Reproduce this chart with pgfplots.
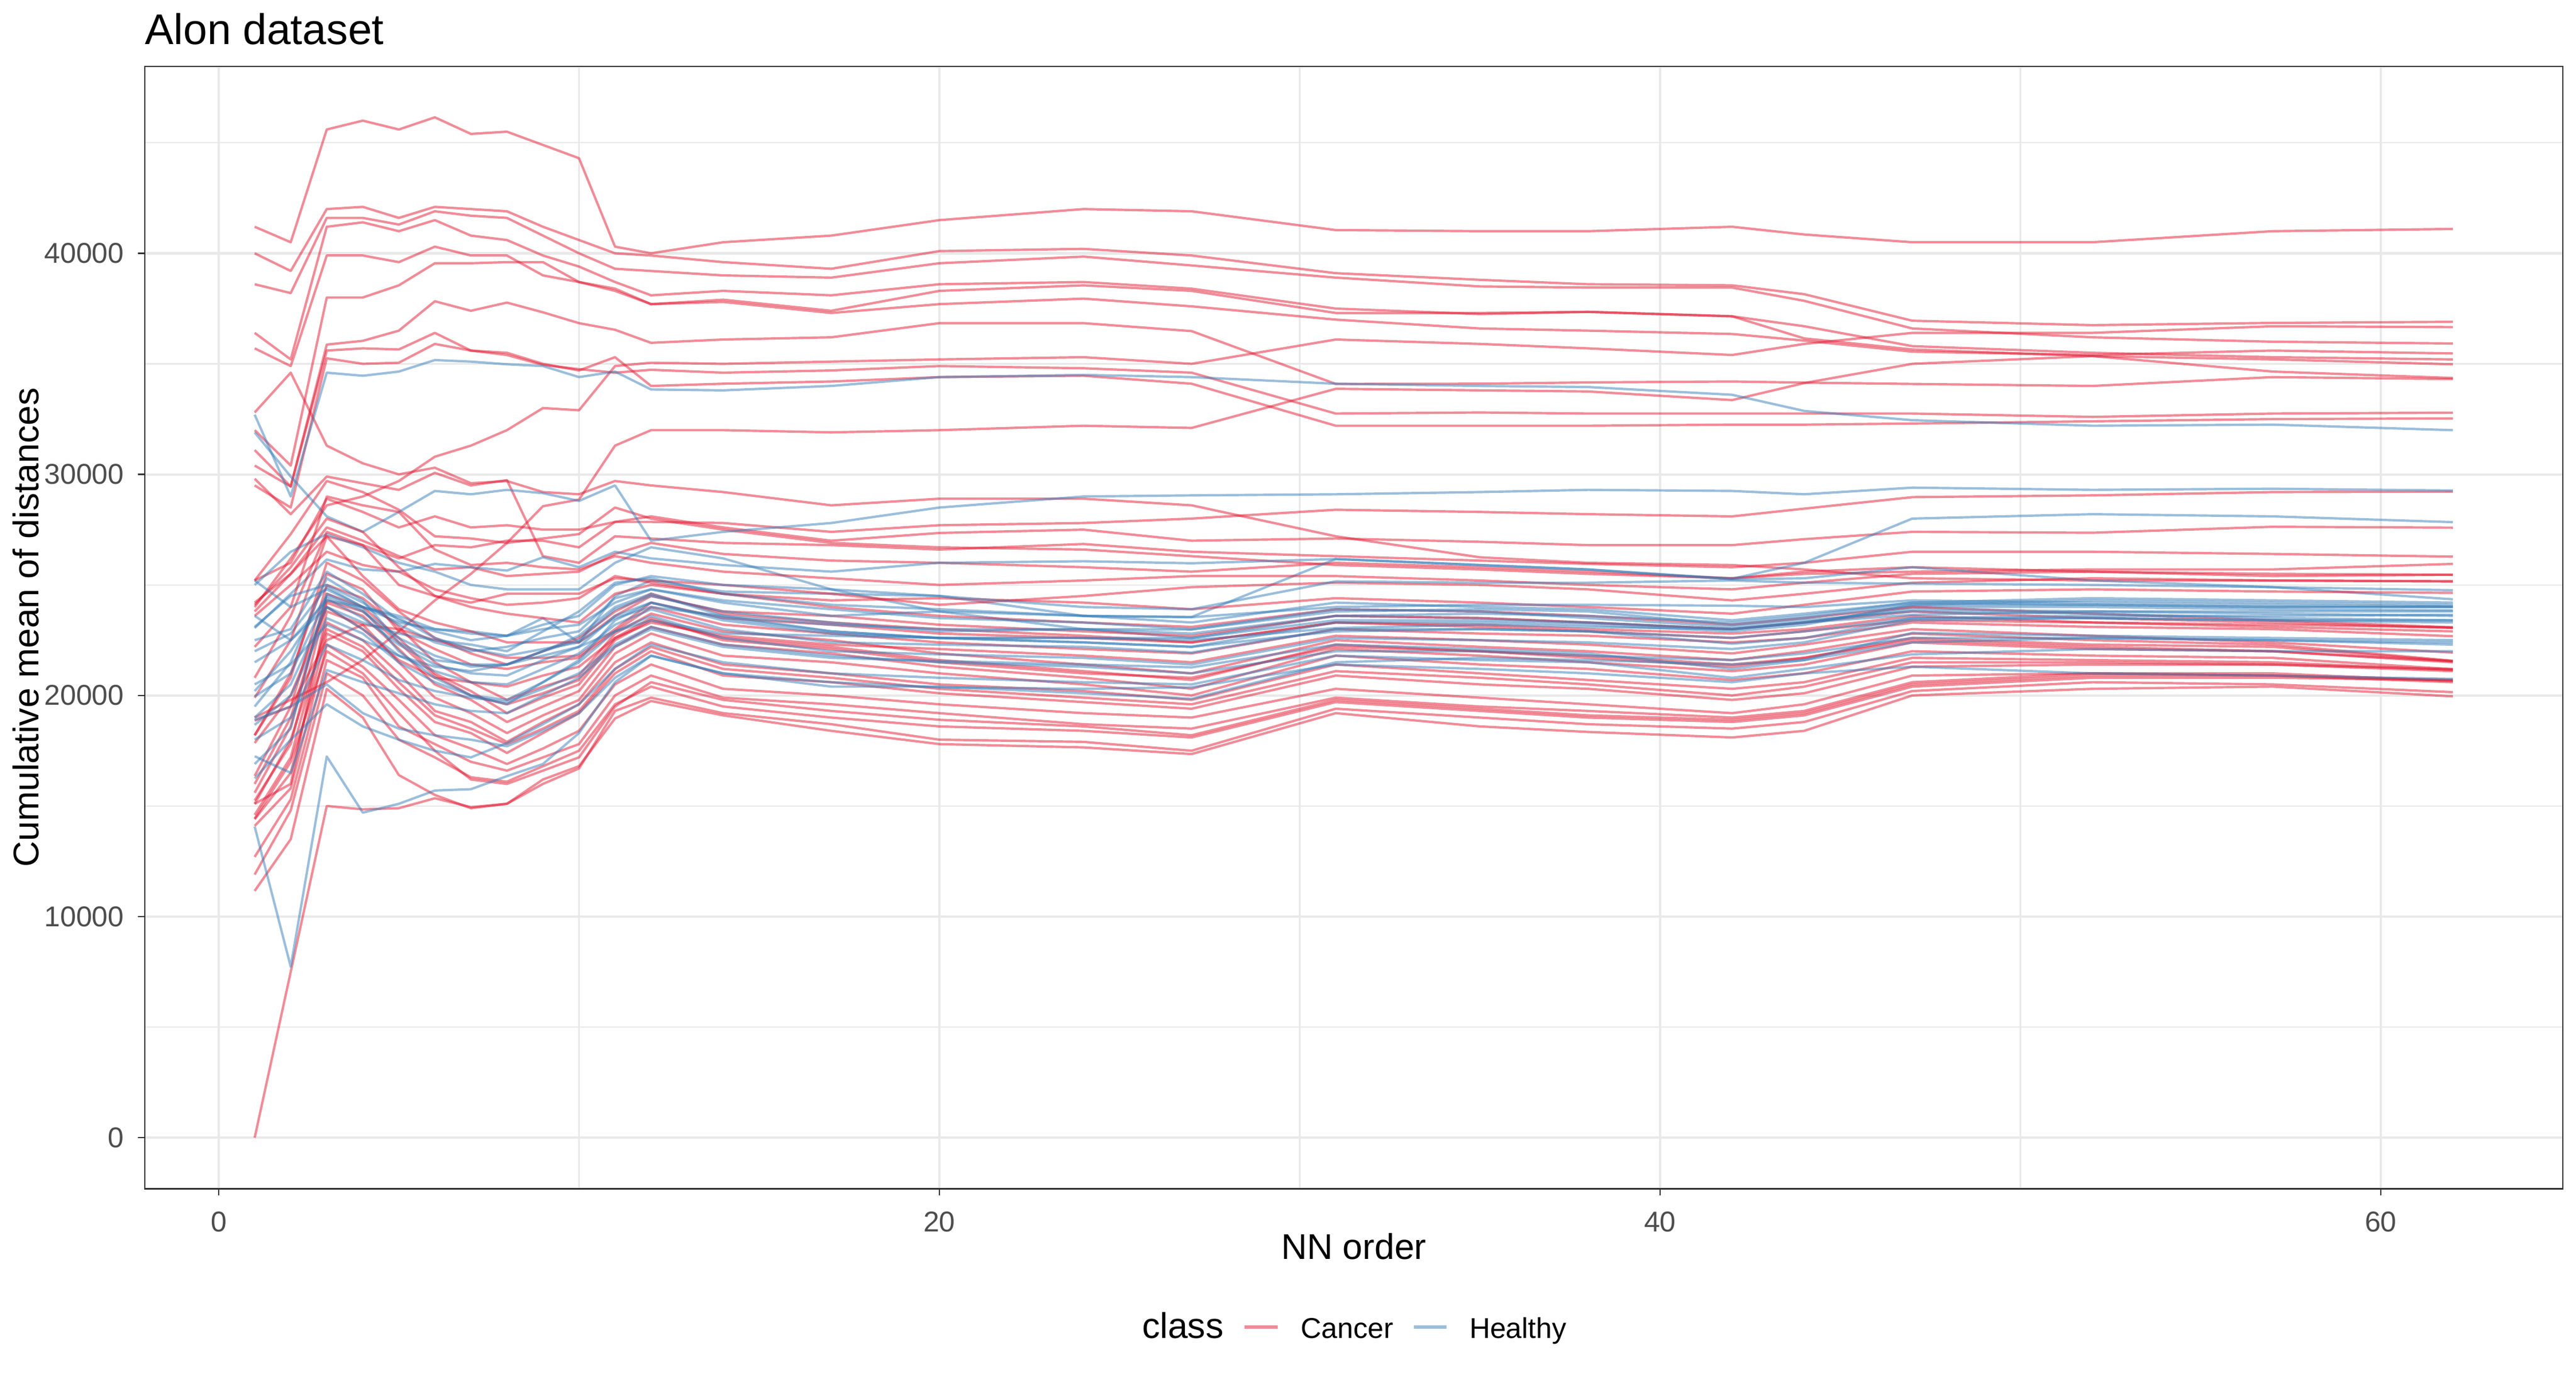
\documentclass[border=0pt]{standalone}
\usepackage{fontspec}
\setmainfont{Liberation Sans}
\usepackage{pgfplots}
\usepackage{pgfplotstable}
\pgfplotsset{compat=1.18}
\definecolor{cancer}{RGB}{225,25,50}
\definecolor{healthy}{RGB}{55,126,184}
\definecolor{grid92}{RGB}{233,233,233}
\definecolor{gray20}{RGB}{51,51,51}
\definecolor{gray30}{RGB}{77,77,77}

\pgfplotstableread{
name 1 2 3 4 5 6 7 8 9 10 11 12 14 17 20 24 27 31 35 38 42 44 47 52 57 62
c1 41.2 40.5 45.6 46.0 45.6 46.15 45.4 45.5 44.9 44.3 40.3 40.0 40.5 40.8 41.5 42.0 41.9 41.05 41.0 41.0 41.2 40.85 40.5 40.5 41.0 41.1
c2 40.0 39.2 42.0 42.1 41.6 42.1 42.0 41.9 41.2 40.6 40.0 39.9 39.6 39.3 40.1 40.2 39.9 39.1 38.8 38.6 38.55 38.15 36.95 36.75 36.85 36.9
c3 38.6 38.2 41.6 41.6 41.3 41.9 41.7 41.6 40.8 40.0 39.3 39.2 39.0 38.9 39.55 39.85 39.45 38.9 38.5 38.45 38.45 37.85 36.6 36.2 36.0 35.92
c4 36.4 35.2 41.2 41.4 41.0 41.5 40.8 40.6 39.9 39.4 38.7 38.1 38.3 38.1 38.6 38.7 38.4 37.5 37.25 37.35 37.15 36.15 35.65 35.35 34.65 34.36
c5 35.7 34.9 39.9 39.9 39.6 40.3 39.9 39.9 39.0 38.7 38.3 37.7 37.9 37.4 38.3 38.55 38.3 37.3 37.3 37.35 37.15 36.7 35.8 35.5 35.3 35.2
c6 32.0 30.4 38.0 38.0 38.55 39.55 39.55 39.6 39.6 38.7 38.4 37.7 37.8 37.3 37.7 37.95 37.6 37.0 36.6 36.5 36.35 36.05 35.55 35.4 35.6 35.47
c7 31.1 29.45 35.87 36.04 36.5 37.83 37.4 37.77 37.33 36.84 36.54 35.95 36.1 36.2 36.84 36.84 36.48 34.09 34.1 34.16 34.2 34.15 34.09 34.0 34.4 34.31
c8 24.0 26.2 28.6 29.0 29.7 30.8 31.3 32.0 33.0 32.9 34.9 35.05 35.0 35.1 35.2 35.3 35.0 36.1 35.9 35.7 35.4 35.9 36.4 36.4 36.7 36.66
c9 29.5 28.5 35.25 35.0 35.05 35.9 35.6 35.4 34.95 34.76 34.6 34.73 34.6 34.7 34.9 34.8 34.6 32.75 32.8 32.75 32.75 32.75 32.75 32.6 32.75 32.79
c10 30.4 29.45 35.6 35.7 35.65 36.4 35.6 35.5 35.0 34.7 35.3 34.0 34.1 34.2 34.4 34.46 34.1 32.2 32.2 32.2 32.25 32.25 32.3 32.4 32.5 32.53
c11 19.0 19.8 20.6 21.6 22.9 24.3 25.5 26.9 28.56 28.86 31.3 32.0 32.0 31.9 32.0 32.2 32.1 33.87 33.8 33.75 33.36 34.13 35.0 35.35 35.2 34.98
c12 32.8 34.6 31.3 30.5 30.0 30.3 29.6 29.7 29.2 29.1 29.7 29.5 29.2 28.6 28.9 28.9 28.6 27.2 26.25 26.0 25.9 25.7 25.3 25.2 25.2 25.16
c13 29.8 28.2 29.9 29.6 29.3 30.07 29.5 29.74 26.3 26.0 27.2 27.1 26.9 26.8 26.6 26.85 26.5 26.3 26.1 25.95 25.8 26.0 26.5 26.5 26.4 26.28
c14 25.2 26.0 28.9 28.3 27.6 28.1 27.6 27.7 27.5 27.5 27.85 27.85 27.8 27.4 27.7 27.8 28.0 28.4 28.3 28.2 28.1 28.45 28.97 29.05 29.2 29.22
c15 23.8 25.5 27.2 26.8 26.2 26.8 26.7 27.0 27.0 26.7 27.85 28.1 27.6 27.0 27.35 27.5 27.0 27.1 26.95 26.8 26.8 27.07 27.4 27.36 27.63 27.59
c16 25.2 27.3 29.7 29.2 28.4 27.2 27.1 26.9 27.1 27.3 28.5 28.0 27.5 26.9 26.7 26.6 26.3 25.9 25.7 25.5 25.3 25.6 25.8 25.6 25.4 25.46
c17 24.2 25.5 27.6 27.0 26.3 25.7 25.8 25.4 25.5 25.6 26.4 26.9 26.4 26.1 26.0 25.8 25.6 26.0 25.8 25.6 25.3 25.5 25.6 25.7 25.7 25.95
c18 0 7.5 15.0 14.85 14.9 15.35 14.95 15.1 16.2 16.8 18.96 19.75 19.1 18.4 17.8 17.65 17.35 19.2 18.6 18.35 18.1 18.4 20.0 20.3 20.4 19.96
c19 11.16 13.5 20.3 19.0 16.4 15.5 14.9 15.1 16.0 16.7 19.3 19.9 19.2 18.7 18.0 17.9 17.5 19.4 19.0 18.7 18.5 18.8 20.2 20.6 20.5 20.15
c20 11.9 14.8 21.0 20.0 18.0 17.2 16.3 16.1 16.8 17.5 19.6 20.4 19.5 19.0 18.6 18.4 18.1 19.7 19.3 19.0 18.8 19.1 20.4 20.8 20.8 20.7
c21 12.7 15.3 21.6 20.8 18.6 17.8 17.0 16.6 17.2 17.8 20.0 20.9 19.9 19.6 19.2 18.7 18.5 19.9 19.5 19.3 19.0 19.3 20.6 21.0 20.9 20.6
c22 14.1 15.8 22.3 21.3 19.8 18.2 17.6 16.9 17.6 18.4 20.5 21.4 20.3 20.0 19.6 19.2 19.0 20.3 19.9 19.6 19.2 19.6 20.9 21.0 21.0 20.65
c23 14.4 16.5 22.8 22.0 20.3 18.8 18.3 17.4 18.3 19.2 21.0 22.0 20.9 20.6 20.1 19.7 19.4 20.9 20.5 20.3 19.8 20.1 21.3 21.4 21.4 21.1
c24 14.6 17.2 23.3 22.5 21.0 19.3 18.8 17.9 18.8 19.6 21.5 22.4 21.4 21.0 20.5 20.2 19.8 21.4 21.0 20.7 20.3 20.6 21.7 21.6 21.5 21.15
c25 15.1 16.0 23.8 23.2 21.5 19.9 19.2 18.3 19.1 19.8 21.9 22.8 21.8 21.5 21.0 20.5 20.0 21.8 21.4 21.2 20.7 21.0 22.0 21.8 21.7 21.19
c26 15.25 17.8 24.2 23.6 22.1 20.5 19.8 18.8 19.5 20.2 22.2 23.1 22.3 21.9 21.3 20.8 20.3 22.1 21.8 21.5 21.1 21.4 22.4 22.1 22.0 21.5
c27 15.6 18.6 24.6 24.0 22.6 21.0 20.2 19.2 19.9 20.5 22.5 23.4 22.6 22.2 21.6 21.1 20.7 22.3 22.0 21.8 21.4 21.7 22.6 22.3 22.2 21.55
c28 16.36 19.5 25.0 24.4 23.1 21.5 20.6 19.8 20.4 20.9 22.8 23.7 22.9 22.5 21.9 21.4 21.0 22.5 22.2 22.0 21.6 22.0 22.8 22.5 22.3 21.57
c29 17.85 20.0 24.0 23.0 21.6 20.8 20.6 20.4 20.9 21.3 22.6 23.3 22.7 22.3 22.1 21.8 21.5 22.7 22.5 22.3 21.9 22.3 23.0 22.7 22.4 21.94
c30 18.2 21.0 25.5 24.8 22.9 22.1 21.4 21.2 21.5 21.7 22.9 24.0 23.2 22.8 22.4 22.1 21.9 23.0 22.8 22.7 22.4 22.6 23.3 23.1 23.0 22.68
c31 18.86 19.5 22.5 23.2 23.0 22.5 22.1 21.7 21.7 21.8 23.0 24.2 23.5 23.2 22.8 22.6 22.4 23.3 23.2 23.0 22.8 23.0 23.6 23.3 23.1 22.9
c32 19.9 22.5 27.2 25.4 23.9 23.3 22.9 22.4 22.4 22.4 23.6 24.5 23.8 23.6 23.2 22.9 22.7 23.6 23.5 23.3 23.0 23.3 23.8 23.5 23.3 23.05
c33 20.8 23.6 27.4 26.8 25.0 24.5 24.0 23.7 23.5 23.3 24.6 25.0 24.6 24.0 23.6 23.3 23.1 23.9 23.8 23.6 23.2 23.5 24.0 23.7 23.4 23.08
c34 23.6 25.0 26.5 25.9 25.6 24.8 24.4 24.1 24.2 24.4 25.4 25.1 24.6 24.3 24.4 24.2 23.9 24.4 24.2 24.0 23.7 24.1 24.7 24.8 24.7 24.64
c35 24.1 25.8 28.0 27.4 25.8 24.5 24.2 24.6 24.6 24.6 25.3 25.2 25.0 24.6 24.1 24.5 24.9 25.1 25.0 24.8 24.3 24.6 25.1 25.3 25.2 25.16
c36 22.2 24.0 29.0 28.6 28.3 26.6 25.9 26.0 25.8 25.7 26.3 26.0 25.6 25.3 25.0 25.2 25.4 25.4 25.2 25.0 24.8 25.1 25.5 25.6 25.5 25.46
c37 14.43 17.0 22.0 21.0 19.2 17.5 16.2 16.0 16.6 17.2 19.5 20.6 19.8 19.3 18.9 18.6 18.2 19.8 19.4 19.1 18.9 19.2 20.5 20.9 20.9 20.7
c38 15.1 18.0 23.0 22.2 20.6 19.1 18.5 17.8 18.5 19.3 21.2 22.2 21.2 20.8 20.3 19.9 19.6 21.1 20.8 20.5 20.0 20.4 21.5 21.5 21.4 21.19
c39 16.0 19.0 24.3 23.8 22.4 20.9 20.0 19.6 20.1 20.7 22.6 23.5 22.5 22.1 21.5 21.0 20.8 22.2 22.0 21.7 21.3 21.7 22.5 22.2 22.0 21.55
c40 18.2 20.8 26.0 25.2 23.8 22.6 21.9 21.4 22.0 22.6 23.8 24.6 23.7 23.3 23.0 22.7 22.4 23.3 23.1 22.9 22.6 22.9 23.4 23.3 23.2 23.08
}\cancerraw

\pgfplotstableread{
name 1 2 3 4 5 6 7 8 9 10 11 12 14 17 20 24 27 31 35 38 42 44 47 52 57 62
h1 32.7 29.0 34.6 34.46 34.65 35.17 35.1 34.98 34.9 34.4 34.65 33.84 33.8 34.0 34.4 34.5 34.4 34.1 34.0 33.95 33.6 32.87 32.45 32.2 32.25 32.0
h2 31.9 29.9 28.1 27.4 28.3 29.25 29.1 29.3 29.15 28.8 29.5 27.0 27.4 27.8 28.5 29.0 29.05 29.1 29.2 29.3 29.25 29.1 29.4 29.3 29.35 29.27
h3 23.05 24.6 26.15 25.7 25.6 25.95 25.8 25.65 26.25 25.8 26.5 26.2 25.9 25.6 26.0 26.07 25.98 26.17 25.9 25.7 25.28 26.0 28.0 28.2 28.1 27.84
h4 22.0 22.8 24.9 24.0 23.3 23.0 22.9 22.7 23.5 22.4 24.5 25.2 24.7 24.6 24.5 23.6 23.55 26.17 25.9 25.7 25.25 25.3 25.8 25.2 24.9 24.35
h5 25.0 26.5 27.3 26.7 26.0 25.6 25.0 24.8 24.8 24.8 26.0 26.7 26.2 24.8 23.8 23.0 22.6 23.6 23.5 23.3 23.0 23.3 24.0 24.0 23.9 23.85
h6 22.5 23.0 25.6 24.6 23.4 22.9 22.5 22.7 23.2 23.6 25.0 25.4 25.0 24.8 24.5 24.0 23.9 25.16 25.1 25.1 25.2 25.1 25.06 25.0 24.9 24.76
h7 23.1 24.5 25.0 24.2 23.2 22.4 22.0 22.2 22.6 22.9 24.4 24.8 24.2 23.6 23.8 23.6 23.54 24.0 24.1 24.1 24.06 24.0 24.3 24.2 24.1 24.02
h8 20.2 22.0 24.5 23.8 22.6 21.8 21.3 21.4 22.0 22.5 23.9 24.5 23.8 23.3 22.9 23.0 22.98 23.8 23.9 23.8 23.2 23.5 24.1 24.1 24.0 24.0
h9 19.96 21.0 24.4 23.5 22.3 21.4 21.0 20.9 21.6 22.2 23.6 24.2 23.4 22.8 22.6 22.6 22.5 23.05 23.2 23.1 23.0 23.3 23.65 23.8 23.8 23.8
h10 19.0 20.5 24.0 23.0 21.8 21.1 20.6 20.5 21.2 21.9 23.2 23.9 23.0 22.4 22.3 22.2 21.94 23.0 23.0 22.9 22.34 22.6 23.5 23.6 23.6 23.65
h11 18.67 20.0 23.5 22.8 21.5 20.6 20.0 19.8 20.6 21.5 22.9 23.6 22.6 22.0 21.86 21.7 21.4 22.6 22.5 22.4 22.1 22.4 23.4 23.5 23.4 23.4
h12 17.25 16.5 21.15 20.6 20.1 19.6 19.3 19.2 20.0 20.8 22.2 23.0 22.2 21.7 21.56 21.4 21.27 22.3 22.1 21.9 21.2 21.6 22.83 22.7 22.6 22.5
h13 16.25 18.0 19.6 18.6 18.0 17.5 17.2 17.85 18.7 19.6 21.2 22.3 21.5 21.0 20.8 20.6 20.5 21.8 21.6 21.5 20.8 21.2 21.86 22.1 22.0 22.0
h14 14.07 7.73 17.24 14.7 15.1 15.7 15.76 16.35 16.9 18.3 20.6 21.8 21.0 20.6 20.37 20.3 20.37 21.4 21.2 21.0 20.6 21.0 21.3 21.0 20.9 20.75
h15 18.9 19.5 20.5 19.2 18.5 18.2 18.0 17.7 18.4 19.2 20.8 21.8 21.0 20.4 20.4 20.1 19.85 21.5 21.7 21.6 21.4 21.6 22.4 22.6 22.5 22.3
h16 21.5 22.5 24.3 24.0 23.5 22.6 22.1 21.8 22.1 22.4 23.5 24.0 23.6 23.2 23.0 23.0 22.8 23.6 23.7 23.6 23.3 23.6 24.2 24.1 24.0 24.0
h17 20.5 21.4 23.2 22.5 21.8 21.3 21.1 21.4 21.8 22.2 22.9 23.4 22.8 22.7 22.6 22.4 22.2 22.9 23.0 22.9 22.6 22.9 23.5 23.5 23.4 23.3
h18 19.5 21.5 25.3 24.3 22.4 21.6 21.4 21.4 22.0 22.7 24.0 24.6 23.6 22.9 22.6 22.6 22.6 23.4 23.4 23.3 23.0 23.3 23.9 23.8 23.7 23.6
h19 18.0 19.0 22.3 21.6 20.7 20.2 19.9 19.7 20.3 21.0 22.3 23.1 22.3 21.8 21.5 21.3 21.0 22.0 22.0 21.8 21.6 21.9 22.6 22.6 22.5 22.4
h20 16.9 18.5 24.6 23.9 22.0 20.8 20.0 19.6 20.6 21.6 23.4 24.2 23.5 22.9 22.6 22.4 22.2 23.3 23.3 23.2 22.9 23.2 24.1 24.3 24.2 24.1
h21 23.6 22.5 24.0 23.3 22.8 22.5 22.3 22.0 22.9 23.8 25.1 25.3 24.6 24.1 23.9 23.6 23.3 24.2 24.0 23.9 23.4 23.7 24.2 24.4 24.3 24.2
h22 25.2 24.0 24.8 24.0 23.6 23.0 22.8 22.7 23.0 23.2 24.2 24.8 24.3 23.9 23.5 23.3 23.0 23.9 23.8 23.5 23.1 23.4 23.8 23.7 23.5 23.4
}\healthyraw

\pgfplotstabletranspose[colnames from=name, input colnames to=x]\cancertab\cancerraw
\pgfplotstabletranspose[colnames from=name, input colnames to=x]\healthytab\healthyraw

\pgfplotsset{
  cl/.style={draw=cancer, draw opacity=0.5, line width=1.0pt, line join=round},
  hl/.style={draw=healthy, draw opacity=0.5, line width=1.0pt, line join=round},
}

\begin{document}
\begin{tikzpicture}
\useasboundingbox (-60.7pt,-77.6pt) rectangle (1019.3pt,498.3pt);
\begin{axis}[
  at={(0pt,0pt)}, anchor=south west,
  scale only axis, width=1013.7pt, height=470.5pt,
  xmin=-2.05, xmax=65.05, ymin=-2.3075, ymax=48.4575,
  xtick={0,20,40,60}, xticklabels={0,20,40,60},
  ytick={0,10,20,30,40}, yticklabels={0,10000,20000,30000,40000},
  minor xtick={10,30,50}, minor ytick={5,15,25,35,45},
  xtick pos=bottom, ytick pos=left,
  grid=both,
  major grid style={draw=grid92, line width=1.0pt},
  minor grid style={draw=grid92, line width=0.55pt},
  axis line style={draw=gray20, line width=0.6pt},
  tick align=outside, major tick length=2.75pt, minor tick length=0pt,
  tick style={draw=gray20, line width=0.6pt},
  every tick label/.append style={font=\fontsize{12}{14}\selectfont, text=gray30, inner sep=0pt},
  xticklabel style={anchor=north, yshift=-6.8pt},
  yticklabel style={anchor=east, xshift=-5.8pt},
]
\pgfplotsinvokeforeach{1,...,17}{\addplot[cl] table[x=x, y=c#1]{\cancertab};}
\pgfplotsinvokeforeach{1,...,5}{\addplot[hl] table[x=x, y=h#1]{\healthytab};}
\pgfplotsinvokeforeach{18,...,40}{\addplot[cl] table[x=x, y=c#1]{\cancertab};}
\pgfplotsinvokeforeach{6,...,22}{\addplot[hl] table[x=x, y=h#1]{\healthytab};}
\end{axis}
\node[anchor=base west, inner sep=0pt, font=\fontsize{18}{21}\selectfont] at (0pt,479.8pt) {Alon dataset};
\node[anchor=base, inner sep=0pt, font=\fontsize{15}{18}\selectfont] at (506.9pt,-29.6pt) {NN order};
\node[anchor=base, rotate=90, inner sep=0pt, font=\fontsize{15}{18}\selectfont] at (-44.5pt,235.25pt) {Cumulative mean of distances};
\node[anchor=base west, inner sep=0pt, font=\fontsize{15}{18}\selectfont] at (417.9pt,-62.8pt) {class};
\draw[draw=cancer, draw opacity=0.5, line width=1.3pt] (461.1pt,-58pt) -- (474.9pt,-58pt);
\node[anchor=base west, inner sep=0pt, font=\fontsize{12}{14}\selectfont] at (484.5pt,-62.8pt) {Cancer};
\draw[draw=healthy, draw opacity=0.5, line width=1.3pt] (532pt,-58pt) -- (545.7pt,-58pt);
\node[anchor=base west, inner sep=0pt, font=\fontsize{12}{14}\selectfont] at (555.2pt,-62.8pt) {Healthy};
\end{tikzpicture}
\end{document}
